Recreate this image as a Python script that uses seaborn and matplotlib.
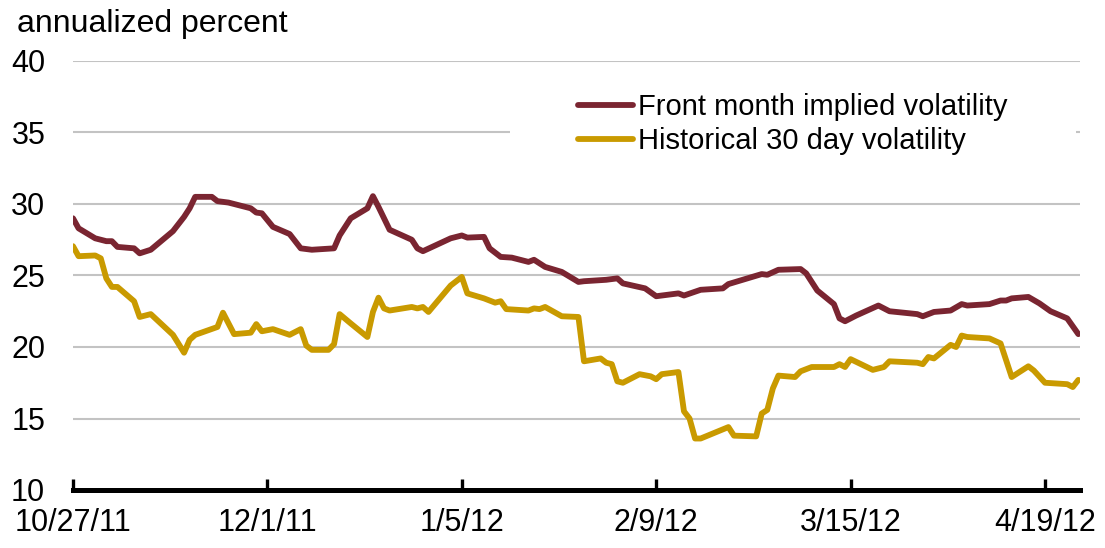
import numpy as np
import pandas as pd
import matplotlib
matplotlib.use("Agg")
import matplotlib.pyplot as plt
from matplotlib.patches import Rectangle
import seaborn as sns

# ---------------- data ----------------
start_date = "2011-10-27"
# days after 10/27/11
implied_days = [0, 1, 4, 6, 7, 8, 11, 12, 14, 18, 20, 21, 22, 25, 26, 28, 32, 33, 34, 36,
                39, 41, 43, 47, 48, 50, 53, 54, 55, 57, 61, 62, 63, 68, 70, 71, 74, 75, 77, 79,
                82, 83, 85, 88, 91, 92, 96, 98, 99, 103, 105, 109, 110, 113, 117, 118, 124, 125, 127, 131,
                132, 134, 137, 138, 139, 141, 145, 147, 152, 153, 155, 158, 160, 161, 165, 167, 168, 169, 172, 174,
                176, 179, 181]
implied_vol = [29.0, 28.3, 27.6, 27.4, 27.4, 27.0, 26.9, 26.55, 26.8, 28.1, 29.1, 29.7, 30.5, 30.5, 30.2, 30.1, 29.7, 29.4, 29.35, 28.4,
               27.9, 26.9, 26.8, 26.9, 27.8, 29.0, 29.7, 30.55, 29.8, 28.2, 27.5, 26.9, 26.7, 27.6, 27.8, 27.65, 27.7, 26.9, 26.3, 26.25,
               25.95, 26.1, 25.6, 25.25, 24.55, 24.6, 24.7, 24.8, 24.45, 24.1, 23.55, 23.75, 23.6, 24.0, 24.1, 24.4, 25.1, 25.05, 25.4, 25.45,
               25.15, 23.95, 23.0, 22.0, 21.8, 22.2, 22.9, 22.5, 22.3, 22.15, 22.45, 22.55, 23.0, 22.9, 23.0, 23.25, 23.25, 23.4, 23.5, 23.05,
               22.5, 22.0, 20.9]

historical_days = [0, 1, 4, 5, 6, 7, 8, 11, 12, 14, 18, 20, 21, 22, 26, 27, 29, 32, 33, 34,
                   36, 39, 41, 42, 43, 46, 47, 48, 50, 53, 54, 55, 56, 57, 61, 62, 63, 64, 68, 70,
                   71, 74, 76, 77, 78, 82, 83, 84, 85, 88, 91, 92, 95, 96, 97, 98, 99, 102, 104, 105,
                   106, 109, 110, 111, 112, 113, 118, 119, 123, 124, 125, 126, 127, 130, 131, 133, 137, 138, 139, 140,
                   144, 146, 147, 152, 153, 154, 155, 158, 159, 160, 161, 165, 167, 169, 172, 173, 175, 179, 180, 181]
historical_vol = [27.05, 26.35, 26.4, 26.2, 24.8, 24.2, 24.2, 23.2, 22.1, 22.3, 20.85, 19.6, 20.5, 20.85, 21.4, 22.4, 20.9, 21.0, 21.6, 21.1,
                  21.25, 20.85, 21.25, 20.1, 19.8, 19.8, 20.2, 22.3, 21.65, 20.7, 22.45, 23.45, 22.7, 22.55, 22.8, 22.7, 22.8, 22.45, 24.3, 24.9,
                  23.75, 23.4, 23.1, 23.2, 22.65, 22.55, 22.7, 22.65, 22.8, 22.15, 22.1, 19.0, 19.2, 18.9, 18.8, 17.6, 17.5, 18.1, 17.95, 17.75,
                  18.1, 18.25, 15.5, 15.0, 13.6, 13.6, 14.4, 13.8, 13.75, 15.35, 15.6, 17.1, 18.0, 17.9, 18.3, 18.6, 18.6, 18.8, 18.6, 19.15,
                  18.4, 18.6, 19.0, 18.9, 18.8, 19.3, 19.2, 20.15, 20.0, 20.8, 20.7, 20.6, 20.25, 17.9, 18.65, 18.35, 17.5, 17.4, 17.2, 17.7]

series_names = ["Front month implied volatility", "Historical 30 day volatility"]
series_colors = ["#7a2531", "#c99a00"]
tick_dates = ["2011-10-27", "2011-12-01", "2012-01-05", "2012-02-09", "2012-03-15", "2012-04-19"]
tick_labels = ["10/27/11", "12/1/11", "1/5/12", "2/9/12", "3/15/12", "4/19/12"]
y_ticks = [10, 15, 20, 25, 30, 35, 40]
y_label = "annualized percent"

# ---------------- build frame ----------------
t0 = pd.Timestamp(start_date)
df = pd.concat([
    pd.DataFrame({"date": t0 + pd.to_timedelta(implied_days, unit="D"),
                  "value": implied_vol, "series": series_names[0]}),
    pd.DataFrame({"date": t0 + pd.to_timedelta(historical_days, unit="D"),
                  "value": historical_vol, "series": series_names[1]}),
], ignore_index=True)

# ---------------- plot ----------------
sns.set_style("white")
plt.rcParams["font.family"] = ["Liberation Sans", "DejaVu Sans"]
plt.rcParams["text.color"] = "black"
LW = 4.2

W, H = 1105, 548
fig = plt.figure(figsize=(W / 100, H / 100), dpi=100)
ax = fig.add_axes([73 / W, 1 - 490 / H, 1007 / W, 429 / H])

sns.lineplot(data=df, x="date", y="value", hue="series", hue_order=series_names,
             palette=series_colors, linewidth=LW, estimator=None, sort=False,
             ax=ax, zorder=3)

ax.set_ylim(10, 40)
ax.set_xlim(t0, t0 + pd.Timedelta(days=181.3))
ax.set_yticks(y_ticks)
ax.set_xticks([pd.Timestamp(d) for d in tick_dates])
ax.set_xticklabels(tick_labels)
ax.set_xlabel("")
ax.set_ylabel("")

ax.grid(axis="y", color="#c3c3c3", linewidth=1.5, zorder=0)
ax.grid(axis="x", visible=False)
for s in ["left", "right", "top"]:
    ax.spines[s].set_visible(False)
ax.spines["bottom"].set_linewidth(3.6)
ax.spines["bottom"].set_color("black")
ax.spines["bottom"].set_zorder(4)

ax.tick_params(axis="y", left=False, length=0, pad=20, labelsize=22, labelcolor="black")
ax.tick_params(axis="x", bottom=True, direction="in", length=8, width=2.4, color="black",
               pad=13, labelsize=22, labelcolor="black")

# white backdrop behind the legend that masks the gridline
ax.add_patch(Rectangle(((510 - 73) / 1007, (490 - 165) / 429), (1076 - 510) / 1007, 70 / 429,
                       transform=ax.transAxes, facecolor="white", edgecolor="none", zorder=1))

handles, labels = ax.get_legend_handles_labels()
for h in handles:
    h.set_linewidth(LW)
leg = ax.legend(handles, labels, loc="upper left",
                bbox_to_anchor=(578 / W, 1 - 93 / H), bbox_transform=fig.transFigure,
                frameon=False, fontsize=21, handlelength=1.9, handletextpad=0.15,
                borderpad=0, labelspacing=0.2, borderaxespad=0)
for t in leg.get_texts():
    t.set_color("black")

fig.text(17 / W, 1 - 32 / H, y_label, fontsize=23, ha="left", va="baseline", color="black")

fig.savefig("out.png", dpi=100)
